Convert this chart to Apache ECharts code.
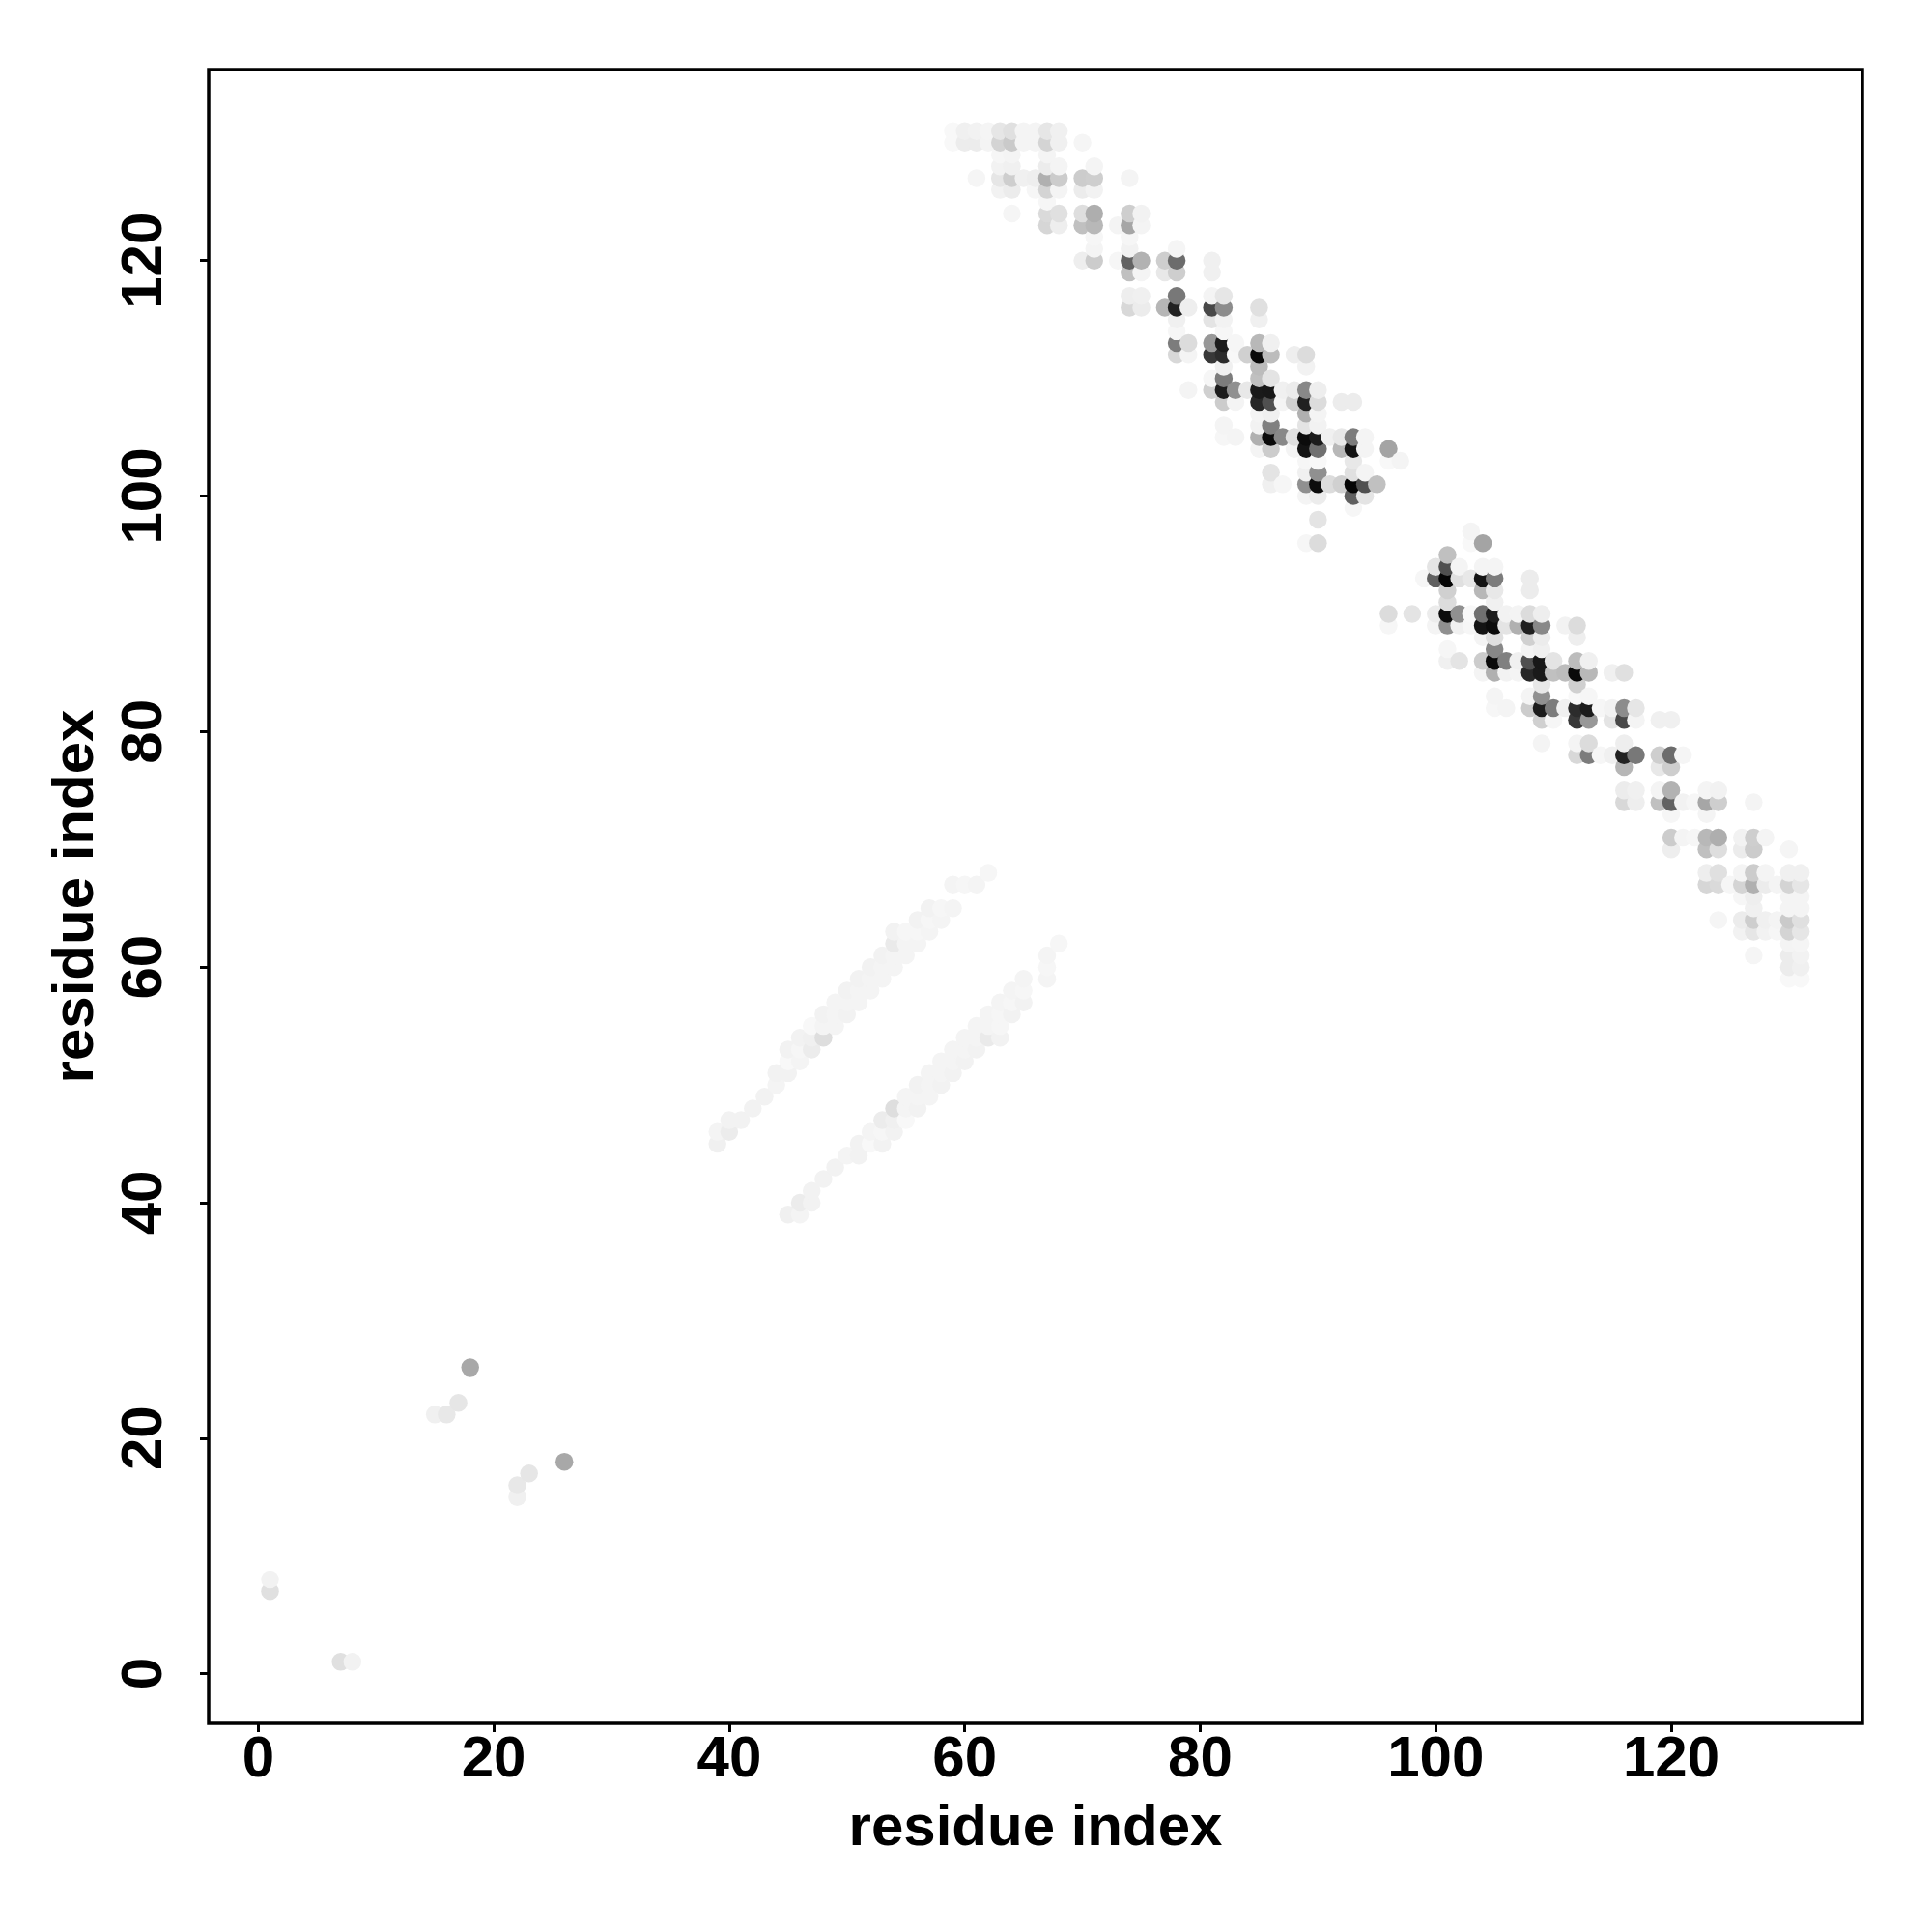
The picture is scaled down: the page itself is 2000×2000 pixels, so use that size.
<!DOCTYPE html>
<html><head><meta charset="utf-8">
<style>html,body{margin:0;padding:0;background:#fff}#c{width:2000px;height:2000px}</style>
<script src="https://cdn.jsdelivr.net/npm/echarts@6/dist/echarts.min.js"></script>
</head><body><div id="c"></div>
<script>
// [residue i, residue j, grey level 0-255]; map is symmetric so each pair is listed once (i<j)
const terminalContacts = [
 [1,7,0xe0],[1,8,0xf2],[15,22,0xf0],[16,22,0xe8],[17,23,0xe6],[18,26,0xa8]
];
const strandContacts = [
 [39,45,0xf0],[39,46,0xf4],[40,46,0xec],[40,47,0xf2],[41,47,0xf2],[42,48,0xf2],[43,49,0xf2],[44,50,0xf4],[44,51,0xf2],
 [45,51,0xf2],[45,52,0xf8],[45,53,0xf2],[46,52,0xf4],[46,53,0xf6],[46,54,0xf2],[47,53,0xec],[47,54,0xf0],[47,55,0xf8],
 [48,54,0xde],[48,55,0xf4],[48,56,0xf2],[49,55,0xf4],[49,56,0xf4],[49,57,0xf4],[50,56,0xf2],[50,57,0xf4],[50,58,0xf2],
 [51,57,0xf4],[51,58,0xf4],[51,59,0xf2],[52,58,0xf4],[52,59,0xf4],[52,60,0xf2],[53,59,0xf4],[53,60,0xf4],[53,61,0xf2],
 [54,60,0xf4],[54,61,0xf4],[54,62,0xea],[54,63,0xf2],[55,61,0xf4],[55,62,0xf4],[55,63,0xf6],[56,62,0xf4],[56,63,0xf6],[56,64,0xf2],
 [57,63,0xf4],[57,64,0xf6],[57,65,0xf2],[58,64,0xf4],[58,65,0xf6],[59,65,0xf4],[59,67,0xf4],[60,67,0xf6],[61,67,0xf4],[62,68,0xf6]
];
const bandContacts = [
 [59,130,0xf8],[59,131,0xf8],[60,130,0xec],[60,131,0xf0],[61,127,0xf5],[61,130,0xec],[61,131,0xf2],[62,130,0xf4],[62,131,0xf5],
 [63,126,0xf2],[63,127,0xe6],[63,128,0xf2],[63,129,0xf6],[63,130,0xd4],[63,131,0xe6],
 [64,124,0xf5],[64,126,0xec],[64,127,0xce],[64,128,0xf0],[64,129,0xf4],[64,130,0xca],[64,131,0xe0],
 [65,127,0xf0],[65,130,0xf4],[65,131,0xf4],[66,126,0xf6],[66,127,0xee],[66,130,0xf4],[66,131,0xf4],
 [67,123,0xd6],[67,124,0xda],[67,125,0xf6],[67,126,0xd4],[67,127,0xb0],[67,128,0xec],[67,129,0xf4],[67,130,0xd4],[67,131,0xe6],
 [68,123,0xee],[68,124,0xe0],[68,126,0xf4],[68,127,0xcc],[68,128,0xf4],[68,130,0xf0],[68,131,0xf0],
 [70,120,0xee],[70,123,0xc0],[70,124,0xde],[70,126,0xec],[70,127,0xcc],[70,130,0xf5],
 [71,120,0xcc],[71,121,0xf4],[71,122,0xf6],[71,123,0xb8],[71,124,0xae],[71,126,0xf2],[71,127,0xce],[71,128,0xf4],
 [73,120,0xf6],[73,123,0xf4],
 [74,116,0xd8],[74,117,0xee],[74,119,0xc0],[74,120,0x62],[74,121,0xf2],[74,122,0xf6],[74,123,0xa6],[74,124,0xce],[74,127,0xf4],
 [75,116,0xec],[75,117,0xf0],[75,119,0xf4],[75,120,0xb2],[75,123,0xf4],[75,124,0xf2],
 [77,116,0xb6],[77,119,0xe8],[77,120,0xce],
 [78,112,0xd8],[78,113,0x7c],[78,114,0xf6],[78,115,0xf0],[78,116,0x22],[78,117,0x78],[78,119,0xce],[78,120,0x6c],[78,121,0xf5],
 [79,109,0xf4],[79,112,0xf4],[79,113,0xdc],[79,116,0xee],
 [81,109,0xd0],[81,110,0xf6],[81,112,0x38],[81,113,0x98],[81,115,0xe4],[81,116,0x48],[81,117,0xf4],[81,119,0xf0],[81,120,0xf0],
 [82,105,0xf6],[82,106,0xf4],[82,108,0xcc],[82,109,0x1c],[82,110,0x7c],[82,111,0xf0],[82,112,0x2c],[82,113,0x1c],[82,114,0xf6],[82,115,0xf2],[82,116,0x8c],[82,117,0xe6],
 [83,105,0xf4],[83,108,0xf4],[83,109,0x90],[83,112,0xf8],[83,113,0xf6],
 [84,109,0xe8],[84,112,0xd0],
 [85,104,0xf4],[85,105,0xb0],[85,106,0xf2],[85,107,0xf4],[85,108,0x28],[85,109,0x1a],[85,110,0xc0],[85,111,0xbc],[85,112,0x0a],[85,113,0xb8],[85,115,0xf0],[85,116,0xe0],
 [86,101,0xf0],[86,102,0xe4],[86,104,0xcc],[86,105,0x0a],[86,106,0x80],[86,107,0xf0],[86,108,0x50],[86,109,0x18],[86,110,0xe4],[86,112,0xbc],[86,113,0xf0],
 [87,101,0xf6],[87,105,0x88],[87,108,0xf4],[87,109,0xf0],
 [88,104,0xf4],[88,105,0xe0],[88,108,0xd0],[88,109,0xec],[88,112,0xee],
 [89,96,0xf6],[89,100,0xf4],[89,101,0x90],[89,102,0xf0],[89,103,0xf6],[89,104,0x14],[89,105,0x0c],[89,106,0xe4],[89,107,0xb0],[89,108,0x20],[89,109,0x88],[89,111,0xf2],[89,112,0xdc],
 [90,96,0xdc],[90,98,0xe4],[90,100,0xec],[90,101,0x0c],[90,102,0x90],[90,103,0xf8],[90,104,0x70],[90,105,0x1c],[90,106,0xf2],[90,107,0xf4],[90,108,0xdc],[90,109,0xee],
 [91,101,0xdc],[91,105,0xf0],
 [92,101,0xd0],[92,104,0xb8],[92,105,0xe8],[92,108,0xec],
 [93,99,0xf6],[93,100,0x60],[93,101,0x06],[93,102,0xe0],[93,103,0xe8],[93,104,0x14],[93,105,0x7c],[93,108,0xec],
 [94,100,0xe4],[94,101,0x50],[94,102,0xf4],[94,104,0xf4],[94,105,0xf4],
 [95,101,0xc0],[96,103,0xf8],[96,104,0xa4],[97,103,0xf4]
];
const tickValues = [0,20,40,60,80,100,120];
const axisTitle = 'residue index';
const xRange = [-4.21, 136.24];
const yRange = [-4.22, 136.22];

const points = [...terminalContacts, ...strandContacts, ...bandContacts]
  .flatMap(([i,j,s]) => [[i,j,s],[j,i,s]])
  .sort((a,b) => a[0]-b[0] || a[1]-b[1]);

const font = {fontFamily:'"Liberation Sans", Arial, sans-serif', fontWeight:'bold', fontSize:60, color:'#000'};
const tickStyle = {show:true, length:9, inside:false, customValues:tickValues, lineStyle:{color:'#000', width:3}};
const axisLineStyle = {show:false, onZero:false};
const chart = echarts.init(document.getElementById('c'), null, {renderer:'canvas', width:2000, height:2000});
chart.setOption({
  animation:false, backgroundColor:'#fff',
  grid:{left:216, top:72, width:1712, height:1712, show:true, borderColor:'#000', borderWidth:3.5, backgroundColor:'#fff', containLabel:false},
  xAxis:{type:'value', min:xRange[0], max:xRange[1], splitLine:{show:false}, axisLine:axisLineStyle,
    axisTick:tickStyle,
    axisLabel:{...font, customValues:tickValues, margin:8, hideOverlap:false, showMinLabel:true, showMaxLabel:true},
    name:axisTitle, nameLocation:'middle', nameGap:79, nameTextStyle:font},
  yAxis:{type:'value', min:yRange[0], max:yRange[1], splitLine:{show:false}, axisLine:axisLineStyle,
    axisTick:tickStyle,
    axisLabel:{...font, customValues:tickValues, rotate:90, margin:36, hideOverlap:false, showMinLabel:true, showMaxLabel:true},
    name:axisTitle, nameLocation:'middle', nameGap:107, nameRotate:90, nameTextStyle:font},
  series:[{type:'scatter', data:points, symbol:'circle', symbolSize:18.5, progressive:0, large:false, clip:false,
    encode:{x:0,y:1}, emphasis:{disabled:true},
    itemStyle:{opacity:1, color:p => { const g=p.value[2]; return `rgb(${g},${g},${g})`; }}}]
});
</script></body></html>
